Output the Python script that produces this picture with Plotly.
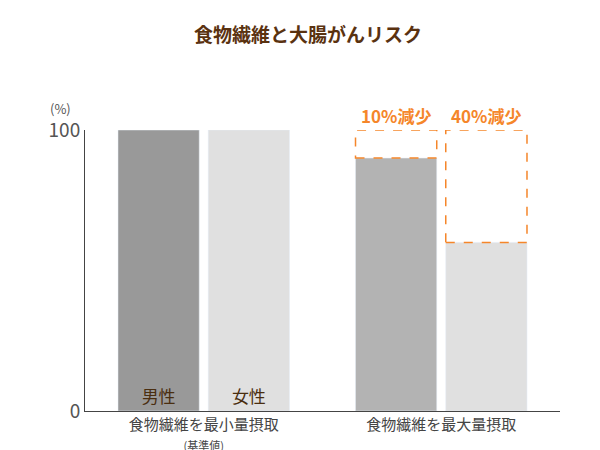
import plotly.graph_objects as go

groups = ["食物繊維を最小量摂取<br><span style='font-size:11px'>(基準値)</span>", "食物繊維を最大量摂取"]
male = [100, 90]
female = [100, 60]
reduction_labels = ["10%減少", "40%減少"]
orange = "#f5862a"

fig = go.Figure()
fig.add_trace(go.Bar(x=groups, y=male, name="男性",
                     marker_color=["#999999", "#b3b3b3"],
                     text=["男性", ""], textposition="inside", insidetextanchor="start",
                     textfont=dict(size=17, color="#4a2e10")))
fig.add_trace(go.Bar(x=groups, y=female, name="女性",
                     marker_color=["#e0e0e0", "#e0e0e0"],
                     text=["女性", ""], textposition="inside", insidetextanchor="start",
                     textfont=dict(size=17, color="#4a2e10")))

# dashed boxes showing the reduction on the second group
slot = 0.76 / 2
half = slot * 0.9 / 2
for i, v in enumerate([male[1], female[1]]):
    cx = 1 - slot / 2 + i * slot
    fig.add_shape(type="rect", xref="x", yref="y", x0=cx - half, x1=cx + half, y0=v, y1=100,
                  line=dict(color=orange, width=1.5, dash="dash"))
    fig.add_annotation(x=cx, y=100, xref="x", yref="y", text="<b>" + reduction_labels[i] + "</b>",
                       showarrow=False, yshift=15,
                       font=dict(size=17, color=orange, family="Noto Sans CJK JP"))

fig.add_annotation(x=0, y=100, xref="paper", yref="y", text="(%)", showarrow=False,
                   xanchor="right", xshift=-12, yshift=22, font=dict(size=13, color="#555"))

fig.update_layout(
    title=dict(text="<b>食物繊維と大腸がんリスク</b>", x=0.5, y=0.955, xanchor="center",
               font=dict(size=19, color="#5a3210")),
    width=600, height=450, showlegend=False, barmode="group",
    bargap=0.24, bargroupgap=0.1,
    plot_bgcolor="white", paper_bgcolor="white",
    font=dict(family="Noto Sans CJK JP", color="#444"),
    margin=dict(l=77, r=48, t=122, b=47, pad=0),
    uniformtext=dict(minsize=10, mode="show"),
)
fig.update_yaxes(range=[0, 100], tickvals=[0, 100], showgrid=False, showline=True,
                 linecolor="#444", tickfont=dict(size=19, color="#555"), ticks="",
                 automargin=False)
fig.update_xaxes(showline=True, linecolor="#444", tickfont=dict(size=15, color="#444"),
                 automargin=False)
fig.write_html("out.html")
